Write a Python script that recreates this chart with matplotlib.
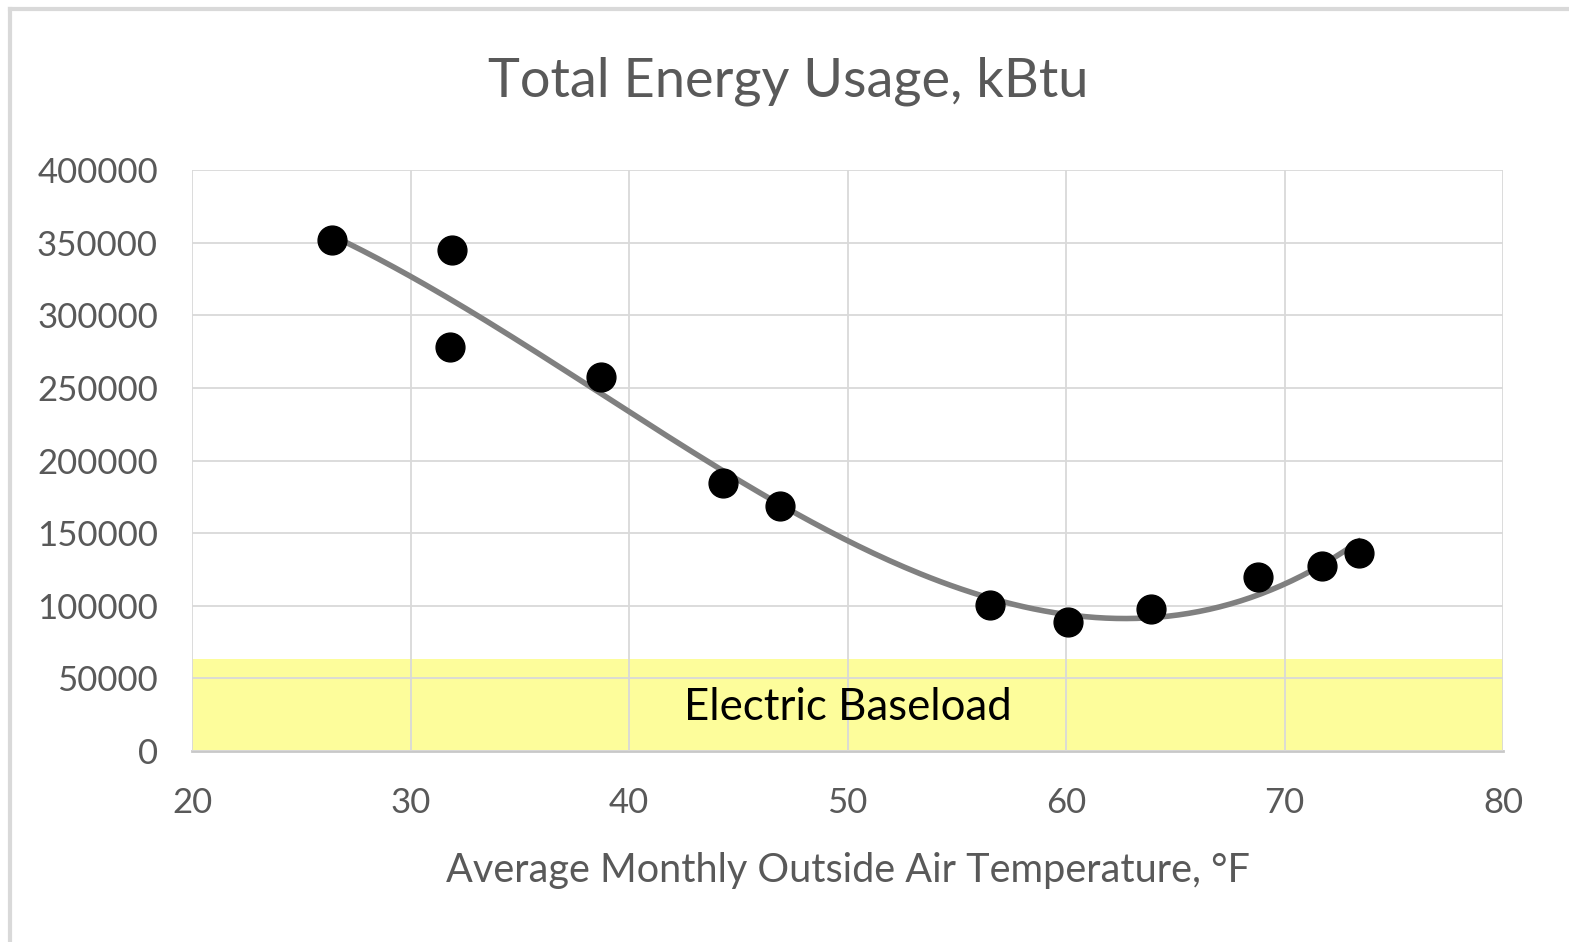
import numpy as np
import matplotlib
matplotlib.use('Agg')
import matplotlib.pyplot as plt
from matplotlib.lines import Line2D

# data
temp_f = [26.4, 31.9, 31.8, 38.7, 44.3, 46.9, 56.5, 60.1, 63.9, 68.8, 71.7, 73.4]
energy_kbtu = [352000, 345000, 278000, 257500, 184500, 168700,
               100500, 88800, 97800, 119800, 127400, 136300]
baseload_kbtu = 63500
x_ticks = [20, 30, 40, 50, 60, 70, 80]
y_ticks = [0, 50000, 100000, 150000, 200000, 250000, 300000, 350000, 400000]

plt.rcParams['font.family'] = ['Lato', 'DejaVu Sans']

fig = plt.figure(figsize=(15.69, 9.42), dpi=100)
ax = fig.add_axes([192 / 1569, 1 - 751 / 942, (1503 - 192) / 1569, (751 - 170) / 942])

# baseload band
ax.axhspan(0, baseload_kbtu, color='#fdfd96', alpha=0.95, zorder=1, lw=0)
ax.text(50, baseload_kbtu / 2 - 1500, 'Electric Baseload', ha='center', va='center',
        fontsize=31.5, color='black', zorder=5)

# points and polynomial trendline
ax.scatter(temp_f, energy_kbtu, s=430, color='black', zorder=4)
coef = np.polyfit(temp_f, energy_kbtu, 3)
xs = np.linspace(min(temp_f), max(temp_f), 200)
ax.plot(xs, np.polyval(coef, xs), color='#808080', lw=4, zorder=3)

ax.set_xlim(20, 80)
ax.set_ylim(0, 400000)
ax.set_xticks(x_ticks)
ax.set_yticks(y_ticks)
ax.grid(True, color='#d9d9d9', lw=1.3, zorder=2)
ax.set_axisbelow(False)
for s in ['top', 'right', 'left']:
    ax.spines[s].set_visible(False)
ax.spines['bottom'].set_color('#c8c8c8')
ax.spines['bottom'].set_linewidth(2)
ax.spines['bottom'].set_zorder(2)
ax.tick_params(length=0, labelsize=25, colors='#595959')
ax.tick_params(axis='y', pad=24.5)
ax.tick_params(axis='x', pad=26)

ax.set_xlabel('Average Monthly Outside Air Temperature, °F', fontsize=28.5,
              color='#595959', labelpad=24)
fig.text(0.5025, 1 - 81 / 942, 'Total Energy Usage, kBtu', ha='center', va='center',
         fontsize=39, color='#595959')

# chart border (top and left only visible)
fig.add_artist(Line2D([10 / 1569, 10 / 1569], [0, 1 - 9 / 942],
                      transform=fig.transFigure, color='#d9d9d9', lw=3))
fig.add_artist(Line2D([10 / 1569, 1], [1 - 9 / 942, 1 - 9 / 942],
                      transform=fig.transFigure, color='#d9d9d9', lw=3))

fig.savefig('out.png', dpi=100)
